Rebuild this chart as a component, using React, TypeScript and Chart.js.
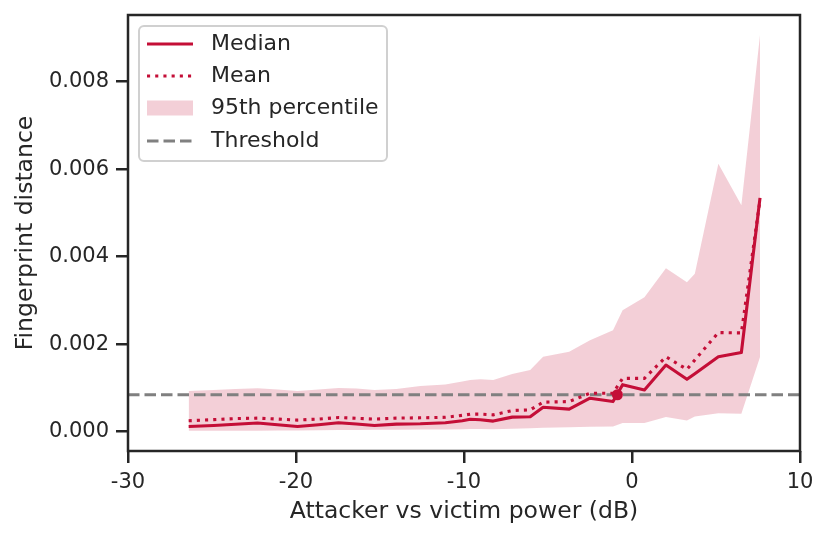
import { useEffect, useRef } from "react";
import { Chart, registerables } from "chart.js";

Chart.register(...registerables);

// attacker vs victim power in dB, one value per measured run
const powerDb = [
  -26.39, -24.9, -23.6, -22.29, -21.1, -19.91, -18.66, -17.47, -16.4, -15.33,
  -14.03, -12.6, -11.11, -10.1, -9.63, -9.03, -8.26, -7.13, -6.06, -5.29,
  -3.74, -2.5, -1.13, -0.56, 0.74, 2.02, 3.27, 3.74, 5.14, 6.51, 7.62,
];
const medianDist = [
  0.00012, 0.000143, 0.00017, 0.000198, 0.000159, 0.00012, 0.000159, 0.000205,
  0.000175, 0.000143, 0.000175, 0.000182, 0.000205, 0.00025, 0.000284,
  0.000273, 0.000243, 0.000334, 0.000341, 0.000561, 0.000516, 0.000766,
  0.000689, 0.001075, 0.000955, 0.001523, 0.001198, 0.001327, 0.001711,
  0.001811, 0.005341,
];
const meanDist = [
  0.00025, 0.000277, 0.0003, 0.000311, 0.000289, 0.000266, 0.000289, 0.000325,
  0.000307, 0.000289, 0.000311, 0.000318, 0.00033, 0.000375, 0.000402,
  0.000402, 0.000386, 0.000484, 0.0005, 0.000675, 0.000689, 0.00088, 0.00088,
  0.00122, 0.00122, 0.001711, 0.001425, 0.001639, 0.002266, 0.002257, 0.0053,
];
const upperDist = [
  0.000932, 0.000955, 0.000977, 0.000993, 0.000966, 0.000932, 0.000966, 0.001,
  0.000989, 0.000955, 0.000977, 0.001045, 0.00108, 0.001148, 0.001182,
  0.001198, 0.001182, 0.001318, 0.001409, 0.001711, 0.001825, 0.002091,
  0.002318, 0.002773, 0.003075, 0.003734, 0.003416, 0.003607, 0.00612,
  0.005175, 0.009061,
];
const lowerDist = [
  0.00002, 0.00002, 0.000025, 0.000025, 0.00003, 0.00003, 0.000035, 0.00004,
  0.00004, 0.000045, 0.000045, 0.00005, 0.00005, 0.000055, 0.00006, 0.000061,
  0.000057, 0.000068, 0.00008, 0.000091, 0.000102, 0.000114, 0.00012,
  0.000198, 0.000198, 0.000334, 0.000257, 0.000348, 0.000425, 0.000409,
  0.001705,
];
const threshold = 0.000845;
const crossing = { x: -0.87, y: 0.000845 };

const xTicks = [-30, -20, -10, 0, 10];
const xTickLabels = ["-30", "-20", "-10", "0", "10"];
const yTicks = [0, 0.002, 0.004, 0.006, 0.008];
const yTickLabels = ["0.000", "0.002", "0.004", "0.006", "0.008"];

const legendLabels = ["Median", "Mean", "95th percentile", "Threshold"];

const RED = "#c40e37";
const BAND = "rgba(196, 14, 55, 0.2)";
const GREY = "#808080";
const INK = "#262626";
const FONT = "'DejaVu Sans', sans-serif";

function pts(ys: number[]) {
  return powerDb.map((x, i) => ({ x, y: ys[i] }));
}

const framePlugin = {
  id: "frameAndLegend",
  afterDraw(chart: any) {
    const { ctx, chartArea: a } = chart;
    ctx.save();
    ctx.strokeStyle = INK;
    ctx.lineWidth = 2.5;
    ctx.strokeRect(a.left, a.top, a.right - a.left, a.bottom - a.top);

    // legend box, upper left inside the axes
    const bx = 139, by = 26, bw = 248, bh = 135;
    ctx.beginPath();
    if (ctx.roundRect) ctx.roundRect(bx, by, bw, bh, 5);
    else ctx.rect(bx, by, bw, bh);
    ctx.fillStyle = "rgba(255,255,255,0.8)";
    ctx.fill();
    ctx.strokeStyle = "#d0d0d0";
    ctx.lineWidth = 2;
    ctx.stroke();

    const rows = [44, 76, 108, 141];
    const x0 = 147, x1 = 193;
    rows.forEach((y, i) => {
      ctx.setLineDash([]);
      ctx.lineCap = "butt";
      if (i === 0) {
        ctx.strokeStyle = RED;
        ctx.lineWidth = 3.1;
        ctx.beginPath(); ctx.moveTo(x0, y); ctx.lineTo(x1, y); ctx.stroke();
      } else if (i === 1) {
        ctx.strokeStyle = RED;
        ctx.lineWidth = 3.1;
        ctx.setLineDash([3.1, 5.1]);
        ctx.beginPath(); ctx.moveTo(x0, y); ctx.lineTo(x1, y); ctx.stroke();
      } else if (i === 2) {
        ctx.fillStyle = BAND;
        ctx.fillRect(x0, y - 7.5, x1 - x0, 15);
      } else {
        ctx.strokeStyle = GREY;
        ctx.lineWidth = 3.1;
        ctx.setLineDash([11.5, 5]);
        ctx.beginPath(); ctx.moveTo(x0, y); ctx.lineTo(x1, y); ctx.stroke();
      }
      ctx.setLineDash([]);
      ctx.fillStyle = INK;
      ctx.font = `22px ${FONT}`;
      ctx.textBaseline = "middle";
      ctx.textAlign = "left";
      ctx.fillText(legendLabels[i], 211, y);
    });
    ctx.restore();
  },
};

function DistanceChart() {
  const canvasRef = useRef<HTMLCanvasElement | null>(null);
  const chartRef = useRef<Chart | null>(null);

  useEffect(() => {
    if (!canvasRef.current) return;
    chartRef.current?.destroy();

    const tickFont = { family: FONT, size: 21 };
    const titleFont = { family: FONT, size: 23.5 };

    chartRef.current = new Chart(canvasRef.current, {
      type: "line",
      data: {
        datasets: [
          {
            label: "95th upper",
            data: pts(upperDist),
            borderWidth: 0,
            pointRadius: 0,
            backgroundColor: BAND,
            fill: "+1",
            order: 10,
          },
          {
            label: "95th lower",
            data: pts(lowerDist),
            borderWidth: 0,
            pointRadius: 0,
            fill: false,
            order: 11,
          },
          {
            label: "Threshold",
            data: [
              { x: -30, y: threshold },
              { x: 10, y: threshold },
            ],
            borderColor: GREY,
            borderWidth: 3.1,
            borderDash: [11.5, 5],
            pointRadius: 0,
            fill: false,
            order: 3,
          },
          {
            label: "Mean",
            data: pts(meanDist),
            borderColor: RED,
            borderWidth: 3.1,
            borderDash: [3.1, 5.1],
            borderCapStyle: "butt",
            pointRadius: 0,
            fill: false,
            order: 2,
          },
          {
            label: "Median",
            data: pts(medianDist),
            borderColor: RED,
            borderWidth: 3.1,
            borderJoinStyle: "round",
            pointRadius: 0,
            fill: false,
            order: 1,
          },
          {
            label: "Crossing",
            data: [crossing],
            showLine: false,
            pointRadius: 5.5,
            pointBackgroundColor: RED,
            pointBorderWidth: 0,
            order: 0,
          },
        ],
      },
      options: {
        animation: false,
        responsive: true,
        maintainAspectRatio: false,
        layout: { padding: { left: 0, right: 30, top: 15, bottom: 0 } },
        plugins: {
          legend: { display: false },
          tooltip: { enabled: false },
        },
        scales: {
          x: {
            type: "linear",
            min: -30,
            max: 10,
            afterBuildTicks: (s: any) => {
              s.ticks = xTicks.map((value) => ({ value }));
            },
            afterFit: (s: any) => {
              s.height = 87;
              s.paddingLeft = 0;
              s.paddingRight = 0;
            },
            grid: {
              drawOnChartArea: false,
              drawTicks: true,
              tickLength: 12,
              lineWidth: 2.5,
              color: INK,
            },
            border: { display: false },
            ticks: {
              padding: 7,
              color: INK,
              font: tickFont,
              maxRotation: 0,
              callback: (_v: any, i: number) => xTickLabels[i],
            },
            title: {
              display: true,
              text: "Attacker vs victim power (dB)",
              color: INK,
              font: titleFont,
              padding: { top: 0, bottom: 12 },
            },
          },
          y: {
            type: "linear",
            min: -0.00044,
            max: 0.00952,
            afterBuildTicks: (s: any) => {
              s.ticks = yTicks.map((value) => ({ value }));
            },
            afterFit: (s: any) => {
              s.width = 128;
              s.paddingTop = 0;
              s.paddingBottom = 0;
            },
            grid: {
              drawOnChartArea: false,
              drawTicks: true,
              tickLength: 12,
              lineWidth: 2.5,
              color: INK,
            },
            border: { display: false },
            ticks: {
              padding: 7,
              color: INK,
              font: tickFont,
              callback: (_v: any, i: number) => yTickLabels[i],
            },
            title: {
              display: true,
              text: "Fingerprint distance",
              color: INK,
              font: titleFont,
              padding: { top: 12, bottom: 0 },
            },
          },
        },
      },
      plugins: [framePlugin],
    });

    return () => {
      chartRef.current?.destroy();
      chartRef.current = null;
    };
  }, []);

  return (
    <div
      style={{
        position: "absolute",
        left: 0,
        top: 0,
        width: 830,
        height: 538,
        background: "#ffffff",
      }}
    >
      <canvas ref={canvasRef} />
    </div>
  );
}

export default function App() {
  return <DistanceChart />;
}
